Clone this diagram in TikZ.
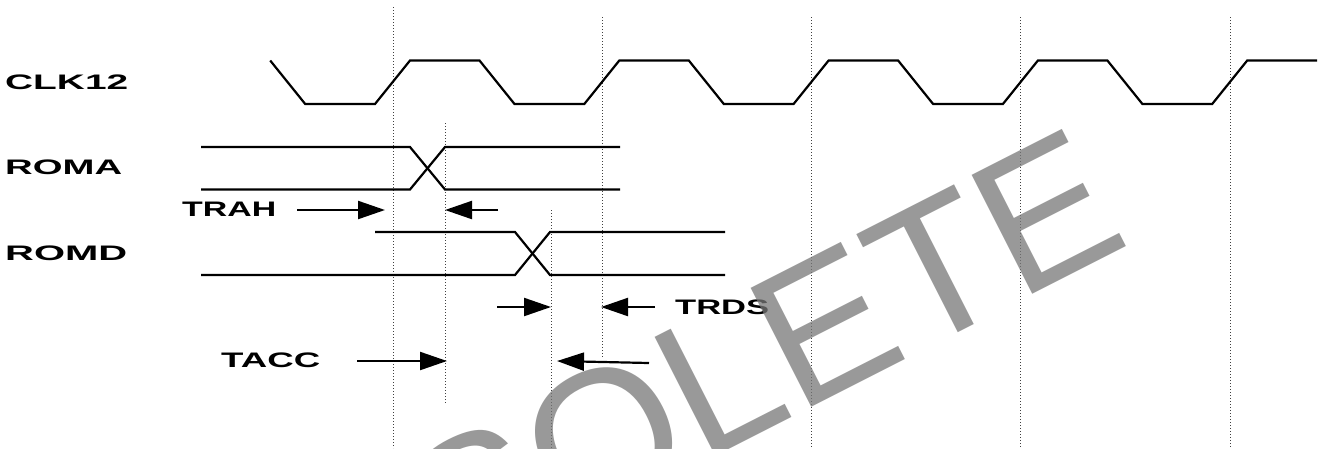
\documentclass[tikz,border=0pt]{standalone}
\usepackage{fontspec}
\setmainfont{Liberation Sans}
\usepackage{graphicx}
\usetikzlibrary{arrows.meta}
\definecolor{wmgray}{RGB}{120,120,120}
\tikzset{
 wave/.style={line width=2.2pt, line join=miter},
 gridline/.style={line width=0.9pt, black!75, dash pattern=on 1pt off 2pt},
 tarrow/.style={line width=2.2pt, -{Triangle[length=27pt,width=18pt]}},
 lbl/.style={anchor=west, inner sep=0pt, font=\fontsize{21}{21}\selectfont\bfseries},
 wmark/.style={anchor=base west, inner sep=0pt, rotate=27, text=wmgray, text opacity=0.75, font=\fontsize{194}{194}\selectfont}
}
\newcommand{\wlab}[2]{\resizebox{#1pt}{\height}{#2}}
\begin{document}
\begin{tikzpicture}[x=1pt,y=-1pt]
\useasboundingbox (0,0) rectangle (1324,448);
\fill[white] (0,0) rectangle (1324,448);
% dotted timing lines
\draw[gridline] (393.5,7) -- (393.5,448);
\draw[gridline] (602,17) -- (602,358);
\draw[gridline] (811,17) -- (811,448);
\draw[gridline] (1020.5,17) -- (1020.5,448);
\draw[gridline] (1230,17) -- (1230,448);
\draw[gridline] (445,123) -- (445,403);
\draw[gridline] (551,210) -- (551,448);
% clock
\draw[wave] (270.2,60.5) -- (305.2,104) -- (375,104) -- (410,60.5) -- (479.5,60.5) -- (514.5,104) -- (584.3,104) -- (619.3,60.5) -- (688.8,60.5) -- (723.8,104) -- (793.6,104) -- (828.6,60.5) -- (898.1,60.5) -- (933.1,104) -- (1002.9,104) -- (1037.9,60.5) -- (1107.4,60.5) -- (1142.4,104) -- (1212.2,104) -- (1247.2,60.5) -- (1317,60.5);
% ROMA
\draw[wave] (201,147) -- (410,147) -- (445,189.5) -- (620,189.5);
\draw[wave] (201,189.5) -- (410,189.5) -- (445,147) -- (620,147);
% ROMD
\draw[wave] (375,232) -- (515,232) -- (550,275) -- (725,275);
\draw[wave] (201,275) -- (515,275) -- (550,232) -- (725,232);
% labels
\node[lbl] (clk) at (5,82) {\wlab{123}{CLK12}};
\node[lbl] (roma) at (5,167.5) {\wlab{117}{ROMA}};
\node[lbl] (romd) at (5,253) {\wlab{122}{ROMD}};
\node[lbl] (trah) at (182,209.5) {\wlab{94}{TRAH}};
\node[lbl] (tacc) at (221,360.5) {\wlab{99}{TACC}};
\node[lbl] (trds) at (675,307) {\wlab{94}{TRDS}};
% arrow end points
\coordinate (a1s) at (297,210); \coordinate (a1e) at (385,210);
\coordinate (a2s) at (498,210); \coordinate (a2e) at (445,210);
\coordinate (a3s) at (497,307); \coordinate (a3e) at (551,307);
\coordinate (a4s) at (655,307); \coordinate (a4e) at (601,307);
\coordinate (a5s) at (357,361); \coordinate (a5e) at (447,361);
\coordinate (a6s) at (649,363); \coordinate (a6e) at (557,361);
\draw[tarrow] (a1s) -- (a1e);
\draw[tarrow] (a2s) -- (a2e);
\draw[tarrow] (a3s) -- (a3e);
\draw[tarrow] (a4s) -- (a4e);
\draw[tarrow] (a5s) -- (a5e);
\draw[tarrow] (a6s) -- (a6e);
% watermark
\begin{scope}
\clip (0,0) rectangle (1324,448);
\node[wmark] (wm) at (202,718) {OBSOLETE};
\end{scope}
\end{tikzpicture}
\end{document}
